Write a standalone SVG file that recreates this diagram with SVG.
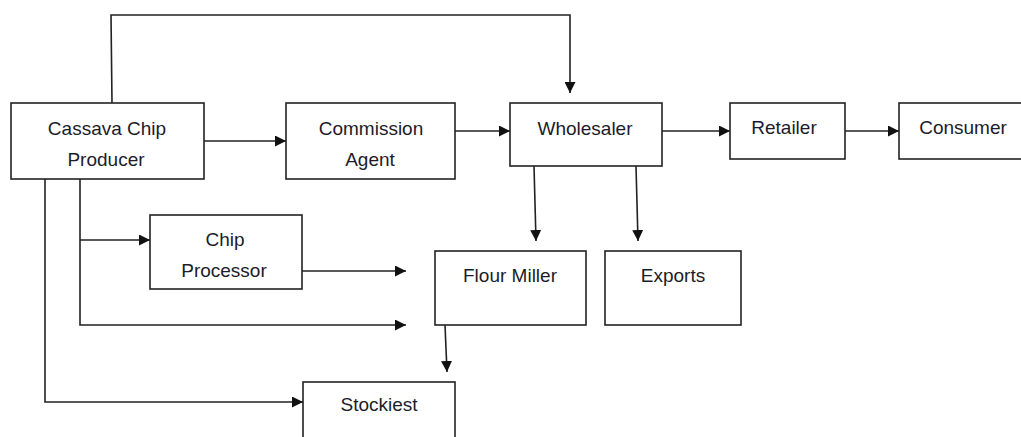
<svg xmlns="http://www.w3.org/2000/svg" width="1021" height="437" viewBox="0 0 1021 437">
<style>
.box{fill:#fff;stroke:#222;stroke-width:1.6}
.lbl{font-family:"Liberation Sans",Arial,sans-serif;font-size:19px;fill:#1c1c2a;text-anchor:middle}
.ln{fill:none;stroke:#222;stroke-width:1.6}
</style>
<defs>
<marker id="ah" markerUnits="userSpaceOnUse" markerWidth="11" markerHeight="11" refX="11" refY="5.5" orient="auto">
<path d="M0,0 L11,5.5 L0,11 z" fill="#111"/>
</marker>
</defs>
<rect width="1021" height="437" fill="#fff"/>
<g id="connectors">
<path class="ln" d="M112,103 L111,15 L570,15 L570,93" marker-end="url(#ah)"/>
<path class="ln" d="M204,141 L286,141" marker-end="url(#ah)"/>
<path class="ln" d="M455,131 L510,131" marker-end="url(#ah)"/>
<path class="ln" d="M662,131 L730,131" marker-end="url(#ah)"/>
<path class="ln" d="M845,131 L899,131" marker-end="url(#ah)"/>
<path class="ln" d="M534,166 L536,241" marker-end="url(#ah)"/>
<path class="ln" d="M636,166 L638,241" marker-end="url(#ah)"/>
<path class="ln" d="M445,325 L447,372" marker-end="url(#ah)"/>
<path class="ln" d="M45,179 L45,402 L303,402" marker-end="url(#ah)"/>
<path class="ln" d="M80,179 L80,325 L406,325" marker-end="url(#ah)"/>
<path class="ln" d="M80,240 L150,240" marker-end="url(#ah)"/>
<path class="ln" d="M302,271 L406,271" marker-end="url(#ah)"/>
</g>
<g id="producer">
<rect class="box" x="11" y="103" width="193" height="76"/>
<text class="lbl" x="107" y="135">Cassava Chip</text>
<text class="lbl" x="106" y="166">Producer</text>
</g>
<g id="commission">
<rect class="box" x="286" y="103" width="169" height="76"/>
<text class="lbl" x="371" y="135">Commission</text>
<text class="lbl" x="370" y="166">Agent</text>
</g>
<g id="wholesaler">
<rect class="box" x="510" y="103" width="152" height="63"/>
<text class="lbl" x="585" y="135">Wholesaler</text>
</g>
<g id="retailer">
<rect class="box" x="730" y="103" width="115" height="56"/>
<text class="lbl" x="784" y="134">Retailer</text>
</g>
<g id="consumer">
<rect class="box" x="899" y="103" width="130" height="56"/>
<text class="lbl" x="963" y="134">Consumer</text>
</g>
<g id="chipprocessor">
<rect class="box" x="150" y="215" width="152" height="74"/>
<text class="lbl" x="225" y="246">Chip</text>
<text class="lbl" x="224" y="277">Processor</text>
</g>
<g id="flourmiller">
<rect class="box" x="435" y="251" width="151" height="74"/>
<text class="lbl" x="510" y="282">Flour Miller</text>
</g>
<g id="exports">
<rect class="box" x="605" y="251" width="136" height="74"/>
<text class="lbl" x="673" y="282">Exports</text>
</g>
<g id="stockiest">
<rect class="box" x="303" y="382" width="152" height="70"/>
<text class="lbl" x="379" y="411">Stockiest</text>
</g>
</svg>
